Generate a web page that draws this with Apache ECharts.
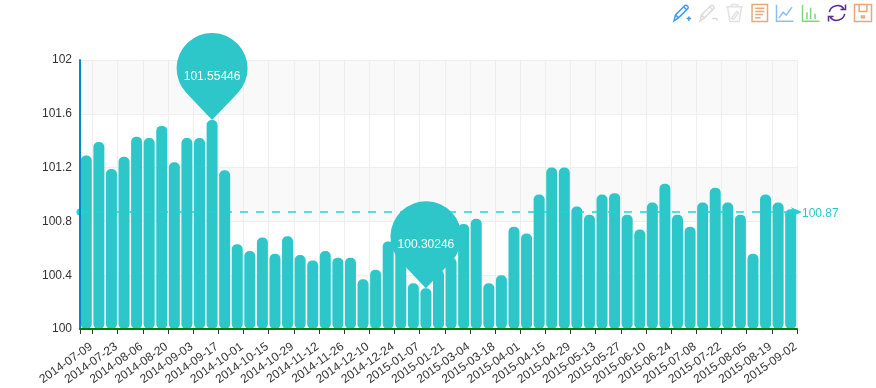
<!DOCTYPE html>
<html>
<head>
<meta charset="utf-8">
<style>
  html, body { margin: 0; padding: 0; background: #fff; }
  #chart { width: 876px; height: 388px; }
</style>
<script src="https://cdn.jsdelivr.net/npm/echarts@6/dist/echarts.min.js"></script>
</head>
<body>
<div id="chart"></div>
<script>
const dates = [
  '2014-07-09','2014-07-16','2014-07-23','2014-07-30','2014-08-06','2014-08-13','2014-08-20','2014-08-27',
  '2014-09-03','2014-09-10','2014-09-17','2014-09-24','2014-10-01','2014-10-08','2014-10-15','2014-10-22',
  '2014-10-29','2014-11-05','2014-11-12','2014-11-19','2014-11-26','2014-12-03','2014-12-10','2014-12-17',
  '2014-12-24','2014-12-31','2015-01-07','2015-01-14','2015-01-21','2015-02-25','2015-03-04','2015-03-11',
  '2015-03-18','2015-03-25','2015-04-01','2015-04-08','2015-04-15','2015-04-22','2015-04-29','2015-05-06',
  '2015-05-13','2015-05-20','2015-05-27','2015-06-03','2015-06-10','2015-06-17','2015-06-24','2015-07-01',
  '2015-07-08','2015-07-15','2015-07-22','2015-07-29','2015-08-05','2015-08-12','2015-08-19','2015-08-26',
  '2015-09-02'
]
const values = [
  101.29, 101.39, 101.19, 101.28, 101.43, 101.42, 101.51, 101.24,
  101.42, 101.42, 101.55446, 101.18, 100.63, 100.58, 100.68, 100.56,
  100.69, 100.55, 100.51, 100.58, 100.53, 100.53, 100.37, 100.44,
  100.65, 100.62, 100.34, 100.30246, 100.44, 100.53, 100.78, 100.82,
  100.34, 100.40, 100.76, 100.71, 101.0, 101.2, 101.2, 100.91,
  100.85, 101.0, 101.01, 100.85, 100.74, 100.94, 101.08, 100.85,
  100.76, 100.94, 101.05, 100.94, 100.85, 100.56, 101.0, 100.94,
  100.89
]
const maxIndex = 10
const minIndex = 27
const meanValue = 100.87

// 工具栏图标
const toolIcons = {
  myZoomIn: ['#3b9cf5', 'path://M1 23 L3 15 L16 2 C18 1 21 4 20 6 L7 19 Z M3 15 L7 19 M14 4 L18 8 M18 20 L24 20 M21 17 L21 23'],
  myZoomOut: ['#dcdcdc', 'path://M1 23 L3 15 L16 2 C18 1 21 4 20 6 L7 19 Z M3 15 L7 19 M14 4 L18 8 M17 20 L24 20 M24 20 L24 23 M1 23 L1 23'],
  myClear: ['#e2e2e2', 'path://M1 4 L23 4 M8 4 L8 1 L16 1 L16 4 M3 4 L6 23 L18 23 L21 4 M8 19 L15 10 L17 12 L11 20 Z'],
  myData: ['#e8a878', 'path://M2 1 L22 1 L22 23 L2 23 Z M6 6 L18 6 M6 10 L18 10 M6 14 L16 14 M6 18 L13 18'],
  myLine: ['#87c0f5', 'path://M1 1 L1 23 L24 23 M4 19 L10 11 L14 15 L22 4'],
  myBar: ['#7ed67e', 'path://M1 1 L1 23 L24 23 M7 20 L7 11 M12 20 L12 5 M18 20 L18 13'],
  myRestore: ['#5c2d91', 'path://M3 11 C4 4 15 0 20 7 M16 8 L22 8 L22 2 M21 13 C20 20 9 24 4 17 M8 16 L2 16 L2 22'],
  mySave: ['#e8a878', 'path://M1 1 L23 1 L23 23 L1 23 Z M7 1 L7 10 L17 10 L17 1 M10 16 L14 16 L14 18 L10 18 Z']
}
const toolFeature = {}
Object.keys(toolIcons).forEach(k => {
  toolFeature[k] = {
    show: true,
    title: '',
    icon: toolIcons[k][1],
    iconStyle: { color: 'none', borderColor: toolIcons[k][0], borderWidth: 1.5 },
    onclick: () => {}
  }
})

// 两周一个刻度，第一个刻度落在坐标轴起点
const tickEvery = idx => idx === 0 || idx % 2 === 1

// 水滴形标注：圆加两条切线，尖端朝下
const pinPath = 'path://M9.8 60 A35.5 35.5 0 1 1 61.2 60 L35.5 87 Z'

const chart = echarts.init(document.getElementById('chart'))
chart.setOption({
  animation: false,
  textStyle: { fontFamily: '"Liberation Sans", Arial, sans-serif' },
  toolbox: {
    show: true,
    right: 2,
    top: 2,
    padding: 0,
    itemSize: 17,
    itemGap: 4,
    feature: toolFeature
  },
  grid: { left: 80, right: 79, top: 60, bottom: 59 },
  xAxis: [{
    type: 'category',
    data: dates,
    axisLine: { show: false },
    axisTick: { show: true, interval: tickEvery, length: 5, lineStyle: { color: '#333' } },
    axisLabel: { color: '#333', fontSize: 12, rotate: 35, interval: 1, margin: 20, padding: [0, -6, 0, 0] },
    splitLine: { show: true, interval: tickEvery, lineStyle: { color: '#eee' } }
  }, {
    // 只画压在柱子上面的绿色轴线
    type: 'category',
    position: 'bottom',
    data: dates,
    z: 5,
    axisLine: { lineStyle: { color: '#008000', width: 2 } },
    axisTick: { show: false },
    axisLabel: { show: false },
    splitLine: { show: false }
  }],
  yAxis: [{
    type: 'value',
    min: 100,
    max: 102,
    interval: 0.4,
    axisLine: { show: false },
    axisTick: { show: false },
    axisLabel: { color: '#333', fontSize: 12, margin: 8, padding: [2, 0, 0, 0] },
    splitLine: { lineStyle: { color: '#eee' } },
    splitArea: { show: true, areaStyle: { color: ['#f9f9f9', '#ffffff'] } }
  }, {
    type: 'value',
    position: 'left',
    min: 100,
    max: 102,
    interval: 0.4,
    z: 5,
    axisLine: { show: true, lineStyle: { color: '#0088cc', width: 2 } },
    axisTick: { show: false },
    axisLabel: { show: false },
    splitLine: { show: false },
    splitArea: { show: false }
  }],
  series: [{
    type: 'bar',
    data: values,
    barWidth: 11,
    itemStyle: { color: '#2ec7c9', borderRadius: 5 },
    markPoint: {
      symbol: pinPath,
      symbolSize: [71, 87],
      symbolOffset: [0, '-50%'],
      itemStyle: { color: '#2ec7c9' },
      label: { color: '#fff', fontSize: 12 },
      data: [
        { coord: [maxIndex, values[maxIndex]], value: values[maxIndex] },
        { coord: [minIndex, values[minIndex]], value: values[minIndex] }
      ]
    },
    markLine: {
      symbol: ['circle', 'arrow'],
      symbolSize: [7, 11],
      symbolOffset: [[0, 0], [0, -5]],
      silent: true,
      lineStyle: { color: '#1fd3d6', type: [8, 8], width: 1.5 },
      label: { color: '#2ec7c9', fontSize: 12, position: 'end', offset: [0, 2], formatter: p => p.value },
      data: [{ yAxis: meanValue }]
    }
  }]
})
</script>
</body>
</html>
